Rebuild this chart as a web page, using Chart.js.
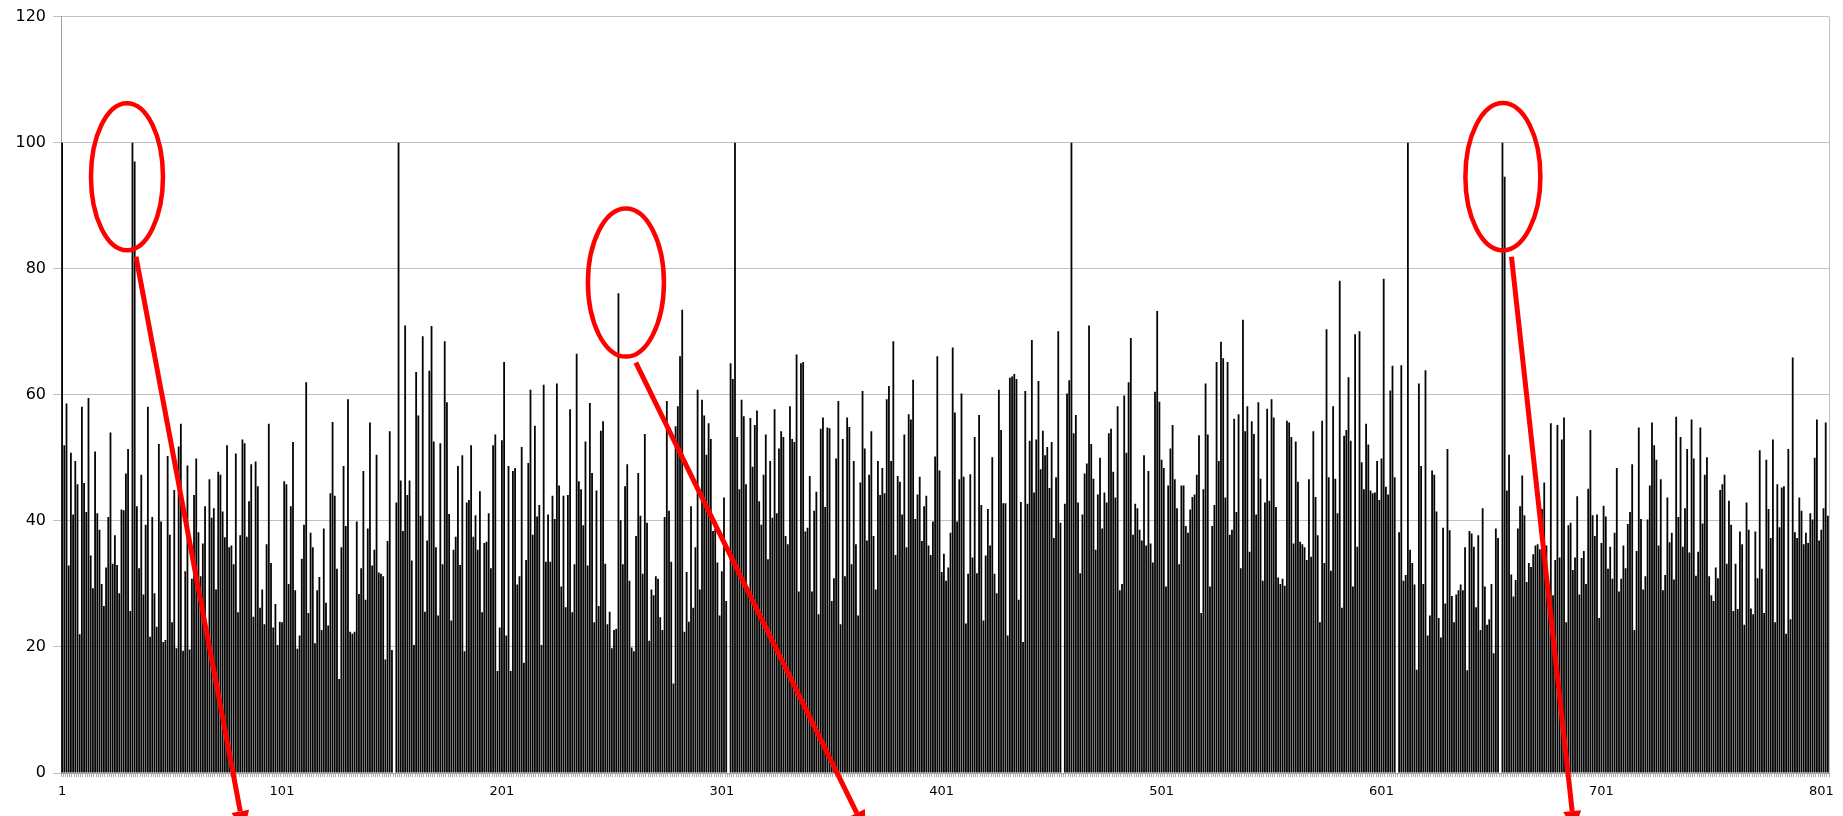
<!DOCTYPE html>
<html>
<head>
<meta charset="utf-8">
<script src="https://cdn.jsdelivr.net/npm/chart.js@4/dist/chart.umd.min.js"></script>
<style>
  html, body { margin: 0; padding: 0; background: #fff; }
  #wrap { width: 1843px; height: 816px; position: relative; }
</style>
</head>
<body>
<div id="wrap"><canvas id="chart"></canvas></div>
<script>
// values, split by region (category numbers in comments)
const values001to102 = [100,52,58.6,32.9,50.8,41,49.5,45.8,22,58.1,46,41.4,59.5,34.5,29.3,51,41.2,38.6,30,26.5,
  32.6,40.6,54,33.2,37.7,33,28.5,41.8,41.7,47.5,51.4,25.7,100,97,42.3,32.5,47.3,28.3,39.4,58.1,
  21.6,40.6,28.5,23.2,52.2,39.9,20.8,21.1,50.3,37.8,23.9,44.9,19.8,51.8,55.4,19.4,32,48.8,19.6,30.8,
  44.1,49.9,38.2,31.2,36.4,42.3,23,46.6,40.5,42,29.1,47.8,47.3,41.5,37.4,52,35.8,36.1,33.1,50.7,
  25.5,37.7,52.9,52.3,37.5,43.1,49,24.8,49.4,45.5,26.2,29.1,23.6,36.3,55.4,33.3,23.1,26.8,20.3,24,
  23.9,46.3];
const values103to204 = [45.8,30,42.3,52.5,29,19.7,21.8,34,39.4,62,25.4,38.1,35.8,20.6,29,31.1,22.7,38.8,27,23.4,
  44.4,55.7,44,32.4,14.9,35.8,48.7,39.2,59.3,22.4,22.1,22.4,39.9,28.4,32.5,47.9,27.5,38.8,55.6,32.9,
  35.4,50.5,31.8,31.6,31.2,18,36.8,54.2,19.5,0,42.9,100,46.4,38.4,71,44.1,46.4,33.7,20.3,63.6,
  56.7,40.8,69.3,25.6,36.9,63.8,70.9,52.6,35.8,25,52.3,33.1,68.5,58.8,41.1,24.2,35.4,37.5,48.7,33,
  50.4,19.3,42.9,43.3,52,37.5,40.9,35.4,44.7,25.5,36.5,36.7,41.2,32.5,52,53.7,16.2,23.1,52.8,65.2,
  21.8,48.7];
const values205to304 = [16.2,47.9,48.4,29.9,31.2,51.7,17.5,33.8,49.2,60.8,37.8,55.1,40.7,42.5,20.3,61.6,33.5,41,33.5,44,
  40.3,61.8,45.6,29.6,44,26.3,44.1,57.7,25.5,33.1,66.5,46.3,45,39.3,52.6,32.9,58.7,47.6,23.9,44.8,
  26.5,54.3,55.8,33.2,23.6,25.6,19.8,22.7,22.9,76.1,40.1,33.1,45.5,49,30.5,19.9,19.3,37.6,47.6,40.8,
  31.6,53.8,39.7,21,29.1,28.2,31.2,30.8,24.7,22.7,40.6,59,41.6,33.5,14.2,55,58.2,66.1,73.5,22.4,
  31.9,24,42.3,26.2,35.8,60.8,29.1,59.2,56.7,50.5,55.5,53,38.4,38.7,33.4,25,32,43.7,27.3,0];
const values305to409 = [65,62.5,100,53.3,45,59.2,56.6,45.8,28.3,56.3,48.6,55.2,57.5,
  43.1,39.4,47.3,53.7,33.9,49.5,40.5,57.7,41.2,51.5,54.2,53.3,37.6,36.3,58.2,53,52.5,66.4,28.8,65,
  65.2,38.3,38.9,47.1,28.8,41.6,44.6,25.2,54.6,56.4,42.2,54.8,54.7,27.3,30.9,49.9,59,23.6,53,31.2,
  56.4,54.9,33.1,49.5,36.3,25,46.1,60.6,51.5,36.9,47.3,54.2,37.6,29.1,49.5,44.1,48.4,44.4,59.3,61.4,
  49.5,68.5,34.6,47.1,46.2,41,53.7,35.8,56.9,56.1,62.4,40.3,44.2,47,36.8,42.3,44,36.1,34.6,39.9,
  50.2,66.1,48,31.9,34.8,30.5,32.6,38.1,67.5,57.2,39.9,46.6];
const values410to511 = [60.2,47,23.7,31.6,47.4,34.2,53.3,31.7,56.8,42.5,24.2,34.5,41.9,36.1,50.1,31.6,28.5,60.8,54.4,42.8,
  42.8,21.8,62.7,62.9,63.3,62.5,27.5,43,20.8,60.6,42.7,52.7,68.7,44.5,52.9,62.2,48.2,54.3,50.4,51.7,
  45.2,52.5,37.3,46.9,70.1,39.7,0,42.7,60.2,62.3,100,53.9,56.8,42.9,31.7,41,47.5,49.1,71,52.2,
  46.7,35.4,44.2,50,38.8,44.5,42.9,53.9,54.6,47.8,43.7,58.2,29,30,59.9,50.8,62,69,37.8,42.7,
  42,38.6,36.9,50.4,36.1,47.9,36.4,33.4,60.5,73.3,58.9,49.7,48.4,29.6,45.6,51.5,55.2,46.6,42,33.1,
  45.6,45.6];
const values512to613 = [39.2,38.1,41.8,43.8,44.2,47.3,53.6,25.4,45,61.8,53.7,29.6,39.2,42.5,65.2,49.5,68.4,65.8,43.7,65.2,
  37.8,38.6,56.2,41.4,56.9,32.5,71.9,54.2,58.2,35.1,55.8,53.8,41,58.8,46.7,30.5,42.9,57.8,43.2,59.3,
  56.4,42.2,31,30,30.8,29.7,55.9,55.6,53.3,36.4,52.6,46.2,36.7,36.3,35.8,33.8,46.6,34.3,54.2,43.8,
  37.7,23.9,55.9,33.3,70.4,46.9,32.1,58.2,46.7,41.2,78.1,26.2,53.5,54.4,62.8,52.7,29.6,69.6,35.9,70.1,
  49.3,45,55.4,52.1,44.8,44.4,44.5,49.5,43.3,49.9,78.4,45.4,44.2,60.7,64.6,46.9,0,38.2,64.7,30.5,
  31.4,100];
const values614to716 = [35.4,33.3,29.9,16.4,61.8,48.7,30,63.9,21.8,25,48,47.3,41.5,24.6,21.5,38.9,26.9,51.4,38.5,28.1,
  23.9,28.3,29,29.9,29,35.8,16.3,38.4,38,35.9,26.3,37.7,22.7,42,29.6,23.5,24.4,30,19,38.8,
  37.3,0,100,94.6,44.8,50.5,31.5,28,30.6,38.8,42.3,47.2,40.9,30.3,33.3,32.7,34.7,36.1,36.3,35.5,
  41.9,46.1,36.1,27,55.5,28.2,33.8,55.2,34.2,52.9,56.4,23.9,39.3,39.7,32.2,34.2,43.9,28.3,34.1,35.2,
  30,45.1,54.4,40.9,37.6,41,24.6,36.5,42.4,40.7,32.4,35.9,30.8,38.1,48.4,28.8,30.8,36.1,32.5,39.5,
  41.4,49,22.7];
const values717to804 = [35.2,54.8,40.3,29.1,31.2,40.2,45.6,55.6,52,49.7,36.1,46.6,29,31.4,43.7,36.6,38.1,30.7,56.5,40.6,
  53.3,35.9,42,51.4,35,56.1,49.9,31.3,35.1,54.8,39.6,47.3,50.1,31.2,28.2,27.3,32.6,30.9,44.9,45.8,
  47.3,33.2,43.2,39.4,25.7,33.2,26,38.3,36.3,23.5,42.9,38.6,26.1,25.2,38.3,30.9,51.2,32.4,25.4,49.7,
  41.9,37.3,52.9,23.9,45.8,39,45.3,45.5,22.1,51.4,24.4,65.9,38.2,37.3,43.7,41.6,36.3,38.1,36.5,41.2,
  40.2,50,56.1,36.9,38.6,42,55.6,40.8];

const values = [].concat(values001to102, values103to204, values205to304, values305to409,
  values410to511, values512to613, values614to716, values717to804);

const categories = values.map((v, i) => String(i + 1));
const xTickLabels = ['1', '101', '201', '301', '401', '501', '601', '701', '801'];
const yMin = 0, yMax = 120, yStep = 20;

// red marks: ellipse centres [category, value], radii in px; arrows from/to [category, value]
const ellipseCenters = [[30.5, 94.6], [257.4, 77.8], [656.2, 94.6]];
const ellipseRadii = [[36, 73.5], [38, 74], [37.5, 73.7]];
const arrowFrom = [[34.6, 81.9], [261.9, 65.1], [660.1, 81.9]];
const arrowTo = [[83.7, -9.2], [366.4, -9.2], [688.7, -9.2]];

const marksPlugin = {
  id: 'marks',
  afterDraw(chart) {
    const ctx = chart.ctx;
    const xs = chart.scales.x, ys = chart.scales.y;
    const px = c => xs.getPixelForValue(c - 1);
    const py = v => ys.getPixelForValue(v);
    ctx.save();
    // right frame edge
    ctx.strokeStyle = '#c0c0c0';
    ctx.lineWidth = 1;
    ctx.beginPath();
    ctx.moveTo(chart.chartArea.right + 0.5, chart.chartArea.top);
    ctx.lineTo(chart.chartArea.right + 0.5, chart.chartArea.bottom);
    ctx.stroke();

    ctx.strokeStyle = '#ff0000';
    ctx.fillStyle = '#ff0000';
    ctx.lineWidth = 4.5;
    ellipseCenters.forEach((c, i) => {
      ctx.beginPath();
      ctx.ellipse(px(c[0]), py(c[1]), ellipseRadii[i][0], ellipseRadii[i][1], 0, 0, Math.PI * 2);
      ctx.stroke();
    });
    ctx.lineWidth = 5;
    arrowFrom.forEach((f, i) => {
      const x0 = px(f[0]), y0 = py(f[1]);
      const x1 = px(arrowTo[i][0]), y1 = py(arrowTo[i][1]);
      const a = Math.atan2(y1 - y0, x1 - x0);
      const head = 20, half = 9;
      const bx = x1 - head * Math.cos(a), by = y1 - head * Math.sin(a);
      ctx.beginPath();
      ctx.moveTo(x0, y0);
      ctx.lineTo(bx, by);
      ctx.stroke();
      ctx.beginPath();
      ctx.moveTo(x1, y1);
      ctx.lineTo(bx + half * Math.sin(a), by - half * Math.cos(a));
      ctx.lineTo(bx - half * Math.sin(a), by + half * Math.cos(a));
      ctx.closePath();
      ctx.fill();
    });
    ctx.restore();
  }
};

new Chart(document.getElementById('chart'), {
  type: 'bar',
  data: {
    labels: categories,
    datasets: [{
      data: values,
      backgroundColor: '#050505',
      borderWidth: 0,
      barPercentage: 0.82,
      categoryPercentage: 1
    }]
  },
  options: {
    responsive: true,
    maintainAspectRatio: false,
    animation: false,
    layout: { padding: { top: 14, right: 14, left: 0, bottom: 0 } },
    plugins: { legend: { display: false }, tooltip: { enabled: false } },
    scales: {
      x: {
        afterFit: s => { s.height = 43; },
        grid: { drawOnChartArea: false, tickLength: 4, color: '#b0b0b0' },
        border: { color: '#a0a0a0' },
        ticks: {
          autoSkip: false,
          maxRotation: 0,
          minRotation: 0,
          padding: 7,
          color: '#000',
          font: { family: 'DejaVu Sans', size: 13 },
          callback: function (val) {
            const l = this.getLabelForValue(val);
            return xTickLabels.includes(l) ? l : '';
          }
        }
      },
      y: {
        min: yMin,
        max: yMax,
        afterFit: s => { s.width = 61; },
        grid: { color: '#c0c0c0', tickLength: 8 },
        border: { color: '#a0a0a0' },
        ticks: {
          stepSize: yStep,
          padding: 7,
          color: '#000',
          font: { family: 'DejaVu Sans', size: 16 }
        }
      }
    }
  },
  plugins: [marksPlugin]
});
</script>
</body>
</html>
